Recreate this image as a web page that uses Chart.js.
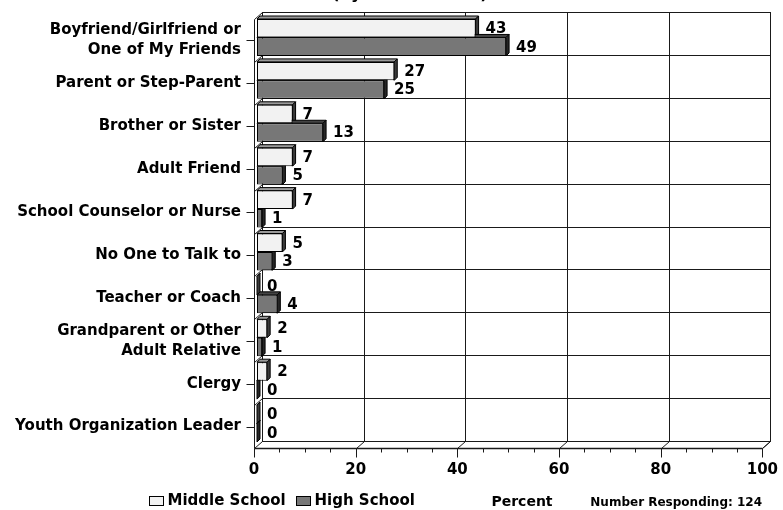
<!DOCTYPE html>
<html>
<head>
<meta charset="utf-8">
<script src="https://cdn.jsdelivr.net/npm/chart.js@4"></script>
<style>
  html, body { margin: 0; padding: 0; background: #fff; }
  #wrap { width: 783px; height: 510px; }
</style>
</head>
<body>
<div id="wrap"><canvas id="chart"></canvas></div>
<script>
const categories = [
  ["Boyfriend/Girlfriend or", "One of My Friends"],
  "Parent or Step-Parent",
  "Brother or Sister",
  "Adult Friend",
  "School Counselor or Nurse",
  "No One to Talk to",
  "Teacher or Coach",
  ["Grandparent or Other", "Adult Relative"],
  "Clergy",
  "Youth Organization Leader"
];
const middleSchool = [43, 27, 7, 7, 7, 5, 0, 2, 2, 0];
const highSchool = [49, 25, 13, 5, 1, 3, 4, 1, 0, 0];
const seriesNames = ["Middle School", "High School"];
const percentTicks = [0, 20, 40, 60, 80, 100];
const titleText = "(by School Level)";
const axisTitle = "Percent";
const respondText = "Number Responding: 124";

const LIGHT = '#f2f2f2', DARK = '#777777';
const FONT = '"DejaVu Sans", sans-serif';
const DX = 8, DY = 7;   // depth of the walls
const BX = 3, BY = 3;   // bars sit a little behind the front plane
const BD = 3;           // bar thickness

Chart.defaults.font.family = FONT;
Chart.defaults.color = '#000';

function line(ctx, x1, y1, x2, y2) {
  ctx.beginPath();
  ctx.moveTo(x1, y1);
  ctx.lineTo(x2, y2);
  ctx.stroke();
}

function poly(ctx, pts, fill) {
  ctx.beginPath();
  ctx.moveTo(pts[0][0], pts[0][1]);
  for (let i = 1; i < pts.length; i++) ctx.lineTo(pts[i][0], pts[i][1]);
  ctx.closePath();
  ctx.fillStyle = fill;
  ctx.fill();
  ctx.stroke();
}

const box3d = {
  id: 'box3d',
  beforeDatasetsDraw(chart) {
    const { ctx, chartArea: a, scales: { x, y } } = chart;
    const L = Math.round(a.left) + 0.5, R = Math.round(a.right) + 0.5;
    const T = Math.round(a.top) + 0.5, B = Math.round(a.bottom) + 0.5;

    ctx.save();
    ctx.strokeStyle = '#1a1a1a';
    ctx.lineWidth = 1;

    // back wall
    ctx.strokeRect(L + DX, T - DY, R - L, B - T);
    // left wall and floor edges
    line(ctx, L, T, L, B);
    line(ctx, L, T, L + DX, T - DY);
    line(ctx, R, B, R + DX, B - DY);

    // vertical gridlines on back wall + floor
    percentTicks.forEach(v => {
      const px = Math.round(x.getPixelForValue(v)) + 0.5;
      if (v > 0 && v < 100) line(ctx, px + DX, T - DY, px + DX, B - DY);
      line(ctx, px, B, px + DX, B - DY);
    });

    // category dividers on back wall + left wall
    for (let k = 1; k < categories.length; k++) {
      const py = Math.round(y.getPixelForValue(k - 0.5)) + 0.5;
      line(ctx, L + DX, py - DY, R + DX, py - DY);
      line(ctx, L, py, L + DX, py - DY);
    }

    // front axis and tick marks
    ctx.lineWidth = 1.5;
    line(ctx, L, B, R, B);
    ctx.lineWidth = 1;
    for (let v = 0; v <= 100; v += 5) {
      const px = Math.round(x.getPixelForValue(v)) + 0.5;
      line(ctx, px, B, px, B + (v % 20 === 0 ? 9 : 4));
    }
    categories.forEach((c, i) => {
      const py = Math.round(y.getPixelForValue(i)) + 0.5;
      line(ctx, L - 8, py, L, py);
    });
    ctx.restore();

    // bar side faces, drawn behind the bar fronts
    ctx.save();
    ctx.translate(BX, -BY);
    ctx.strokeStyle = '#000';
    ctx.lineWidth = 1;
    chart.data.datasets.forEach((ds, di) => {
      const topFill = di === 0 ? '#9a9a9a' : '#444';
      const sideFill = di === 0 ? '#3a3a3a' : '#262626';
      chart.getDatasetMeta(di).data.forEach(bar => {
        const p = bar.getProps(['x', 'y', 'base', 'height'], true);
        const t = p.y - p.height / 2, b = p.y + p.height / 2;
        poly(ctx, [[p.base, t], [p.base + BD, t - BD], [p.x + BD, t - BD], [p.x, t]], topFill);
        poly(ctx, [[p.x, t], [p.x + BD, t - BD], [p.x + BD, b - BD], [p.x, b]], sideFill);
      });
    });
  },
  afterDatasetsDraw(chart) {
    const ctx = chart.ctx;
    ctx.font = 'bold 15px ' + FONT;
    ctx.fillStyle = '#000';
    ctx.textBaseline = 'middle';
    ctx.textAlign = 'left';
    chart.data.datasets.forEach((ds, di) => {
      chart.getDatasetMeta(di).data.forEach((bar, i) => {
        ctx.fillText(String(ds.data[i]), bar.x + BD + 7, bar.y + 1);
      });
    });
    ctx.restore();
  },
  afterDraw(chart) {
    const ctx = chart.ctx;
    ctx.save();
    ctx.fillStyle = '#000';
    // title, mostly above the top edge
    ctx.font = 'bold 16px ' + FONT;
    ctx.textAlign = 'center';
    ctx.textBaseline = 'alphabetic';
    ctx.fillText(titleText, 410, -1);

    // legend
    ctx.font = 'bold 15px ' + FONT;
    ctx.textAlign = 'left';
    ctx.textBaseline = 'middle';
    ctx.strokeStyle = '#000';
    ctx.lineWidth = 1;
    const items = [[149.5, LIGHT], [296.5, DARK]];
    items.forEach(([bx, col], i) => {
      ctx.fillStyle = col;
      ctx.fillRect(bx, 496.5, 14, 9);
      ctx.strokeRect(bx, 496.5, 14, 9);
      ctx.fillStyle = '#000';
      ctx.fillText(seriesNames[i], bx + 18, 501);
    });

    ctx.font = 'bold 14px ' + FONT;
    ctx.textAlign = 'center';
    ctx.fillText(axisTitle, 522, 502);
    ctx.font = 'bold 12px ' + FONT;
    ctx.textAlign = 'right';
    ctx.fillText(respondText, 762, 503);
    ctx.restore();
  }
};

new Chart(document.getElementById('chart'), {
  type: 'bar',
  data: {
    labels: categories,
    datasets: [
      {
        label: seriesNames[0],
        data: middleSchool,
        backgroundColor: LIGHT,
        borderColor: '#000',
        borderWidth: 1,
        borderSkipped: false,
        clip: false
      },
      {
        label: seriesNames[1],
        data: highSchool,
        backgroundColor: DARK,
        borderColor: '#000',
        borderWidth: 1,
        borderSkipped: false,
        clip: false
      }
    ]
  },
  options: {
    indexAxis: 'y',
    responsive: true,
    maintainAspectRatio: false,
    animation: false,
    categoryPercentage: 0.86,
    barPercentage: 1.0,
    layout: { padding: { top: 19, right: 20, left: 0, bottom: 0 } },
    plugins: {
      legend: { display: false },
      tooltip: { enabled: false }
    },
    scales: {
      x: {
        min: 0,
        max: 100,
        ticks: {
          stepSize: 20,
          padding: 5,
          font: { size: 15, weight: 'bold' },
          color: '#000'
        },
        grid: { display: false, drawTicks: true, tickLength: 8 },
        border: { display: false },
        afterFit(scale) { scale.height = 62; }
      },
      y: {
        ticks: {
          padding: 5,
          font: { size: 15, weight: 'bold', lineHeight: 1.33 },
          color: '#000',
          autoSkip: false
        },
        grid: { display: false, drawTicks: true, tickLength: 8 },
        border: { display: false },
        afterFit(scale) { scale.width = 254; }
      }
    }
  },
  plugins: [box3d]
});
</script>
</body>
</html>
